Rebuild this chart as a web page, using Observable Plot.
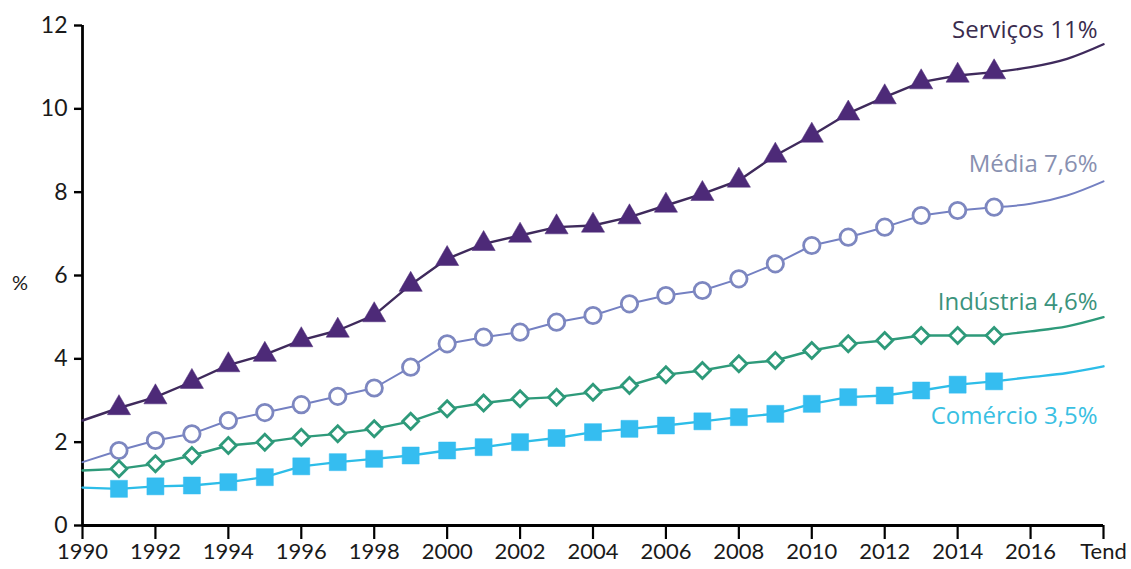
<!DOCTYPE html>
<html><head><meta charset="utf-8">
<script src="https://cdn.jsdelivr.net/npm/d3@7"></script>
<script src="https://cdn.jsdelivr.net/npm/@observablehq/plot@0.6"></script>
<style>
body{margin:0;background:#fff;}
#chart{position:relative;width:1131px;height:569px;}
</style>
</head><body><div id="chart"></div>
<script>
// Years 1990 .. 2018 (2018 = "Tend", trend end point)
const years = d3.range(1990, 2019);
const xTicks = [1990,1992,1994,1996,1998,2000,2002,2004,2006,2008,2010,2012,2014,2016,2018];
const xTickLabels = ["1990","1992","1994","1996","1998","2000","2002","2004","2006","2008","2010","2012","2014","2016","Tend"];
const yTicks = [0,2,4,6,8,10,12];

const seriesNames = ["Serviços","Média","Indústria","Comércio"];
const seriesLabels = ["Serviços 11%","Média 7,6%","Indústria 4,6%","Comércio 3,5%"];

const servicos = [2.52,2.82,3.08,3.45,3.85,4.1,4.45,4.68,5.05,5.78,6.4,6.76,6.96,7.16,7.2,7.4,7.68,7.96,8.28,8.88,9.36,9.89,10.28,10.64,10.8,10.88,11.0,11.2,11.55];
const media    = [1.52,1.8,2.04,2.2,2.52,2.71,2.9,3.1,3.3,3.8,4.36,4.52,4.64,4.88,5.04,5.32,5.52,5.64,5.92,6.28,6.72,6.92,7.16,7.44,7.56,7.64,7.72,7.92,8.26];
const industria= [1.32,1.36,1.48,1.68,1.92,2.0,2.12,2.2,2.32,2.5,2.8,2.94,3.04,3.08,3.2,3.36,3.62,3.72,3.88,3.96,4.2,4.36,4.44,4.56,4.56,4.56,4.66,4.78,5.0];
const comercio = [0.91,0.88,0.94,0.96,1.04,1.16,1.42,1.52,1.6,1.68,1.8,1.88,2.0,2.1,2.24,2.32,2.4,2.5,2.6,2.68,2.92,3.08,3.12,3.24,3.38,3.46,3.56,3.66,3.82];

const values = [servicos, media, industria, comercio];

// styling (kept separate from data)
const lineColors  = ["#3f2a5c","#7480c2","#2e9a7a","#2dbde8"];
const markColors  = ["#4d2a78","#7d87c0","#2e9a7a","#35bdf0"];
const textColors  = ["#3a2c4e","#8890b0","#3b937c","#39c0e2"];
const symbols     = ["triangle","circle","diamond2","square"];
const symbolR     = [8.6,8.2,7.2,9.6];
const labelDy     = [-14,-17,-15,50];

const rows = [];
seriesNames.forEach((s, i) => {
  years.forEach((yr, j) => rows.push({series: s, idx: i, year: yr, value: values[i][j]}));
});
const observed = rows.filter(d => d.year <= 2015);
const trend = rows.filter(d => d.year >= 2015);
const markers = rows.filter(d => d.year >= 1991 && d.year <= 2015);
const ends = rows.filter(d => d.year === 2018);

const marks = [];
seriesNames.forEach((s, i) => {
  marks.push(Plot.line(observed.filter(d => d.idx === i), {x: "year", y: "value", stroke: lineColors[i], strokeWidth: i === 1 ? 2 : 2.4}));
  marks.push(Plot.line(trend.filter(d => d.idx === i), {x: "year", y: "value", stroke: lineColors[i], strokeWidth: i === 1 ? 2 : 2.4, curve: "catmull-rom"}));
});
seriesNames.forEach((s, i) => {
  const hollow = i === 1 || i === 2;
  marks.push(Plot.dot(markers.filter(d => d.idx === i), {
    x: "year", y: "value", symbol: () => symbols[i], r: symbolR[i],
    fill: hollow ? "white" : markColors[i],
    stroke: markColors[i], strokeWidth: hollow ? 2.8 : 0.5
  }));
  marks.push(Plot.text(ends.filter(d => d.idx === i), {
    x: "year", y: "value", text: () => seriesLabels[i], textAnchor: "end",
    dx: -6, dy: labelDy[i], fill: textColors[i], fontSize: 24, fontFamily: "Open Sans",
    style: "letter-spacing:0.5px"
  }));
});

const chart = Plot.plot({
  width: 1131,
  height: 569,
  marginLeft: 82,
  marginRight: 28,
  marginTop: 25,
  marginBottom: 44,
  style: {fontFamily: "Lato", background: "white", overflow: "visible"},
  x: {domain: [1990, 2018], label: null},
  y: {domain: [0, 12], label: null},
  marks: [
    Plot.axisX({ticks: xTicks, tickFormat: d => xTickLabels[xTicks.indexOf(d)], tickSize: 14, tickPadding: 4, fontSize: 22, stroke: "#000", strokeWidth: 2.2, strokeOpacity: 1, fill: "#1a1a1a", label: null}),
    Plot.axisY({ticks: yTicks, tickSize: 8, tickPadding: 7, fontSize: 23, stroke: "#000", strokeWidth: 2.4, strokeOpacity: 1, fill: "#1a1a1a", label: null}),
    Plot.ruleX([1990], {stroke: "#000", strokeWidth: 2.8}),
    Plot.ruleY([0], {stroke: "#000", strokeWidth: 2.8}),
    ...marks
  ]
});
document.getElementById("chart").appendChild(chart);

// "%" axis title as real text beside the y axis
const pct = document.createElement("div");
pct.textContent = "%";
Object.assign(pct.style, {position: "absolute", left: "12px", top: "270px", fontFamily: "Lato", fontSize: "20px", color: "#1a1a1a"});
document.getElementById("chart").appendChild(pct);
</script>
</body></html>
